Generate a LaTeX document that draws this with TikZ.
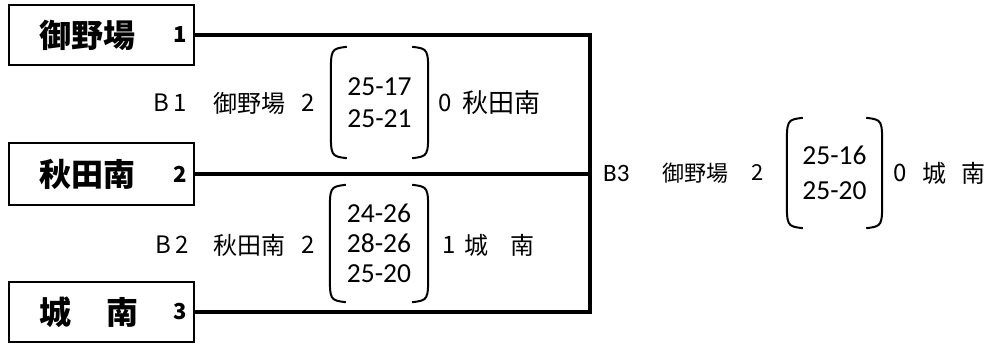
\documentclass[tikz,border=0pt]{standalone}
\usepackage{fontspec}
\setmainfont{Noto Sans CJK JP}
\newfontfamily\scfont{Carlito}
\begin{document}
\begin{tikzpicture}[x=1pt,y=-1pt,
  team/.style={draw, line width=2pt, minimum width=185pt, minimum height=60pt, inner sep=0pt},
  tname/.style={font=\fontsize{32}{32}\selectfont\bfseries, inner sep=0pt, anchor=west},
  tnum/.style={font=\fontsize{22}{22}\selectfont\bfseries, inner sep=0pt, anchor=east},
  wire/.style={line width=3.5pt},
  lbl/.style={font=\fontsize{24}{24}\selectfont, inner sep=0pt, anchor=west},
  score/.style={font=\scfont\fontsize{27.5}{#1}\selectfont, align=center, inner sep=0pt},
  paren/.style={line width=2pt}]
\useasboundingbox (0,0) rectangle (1008,345);

% team boxes
\node[team] (t1) at (101,35) {};
\node[team, minimum height=62pt] (t2) at (101,174) {};
\node[team] (t3) at (101,312) {};
\node[tname] (n1) at (39,35) {御野場};
\node[tname] (n2) at (39,174) {秋田南};
\node[tname] (n3) at (39,312) {城\hspace{35pt}南};
\node[tnum] (k1) at (187,35) {1};
\node[tnum] (k2) at (187,174) {2};
\node[tnum] (k3) at (187,312) {3};

% bracket lines
\coordinate (jn) at (590,0);
\draw[wire] (t1.east) -| (t3.east -| jn) -- (t3.east);
\draw[wire] (t2.east) -- (t2.east -| jn);

% score blocks
\node[score=32pt, minimum width=97pt, minimum height=111pt] (s1) at (379.5,102.5) {25-17\\25-21};
\node[score=30pt, minimum width=98pt, minimum height=117pt] (s2) at (379,243.5) {24-26\\28-26\\25-20};
\node[score=35pt, minimum width=95pt, minimum height=110pt] (s3) at (834.5,173) {25-16\\25-20};
\foreach \s in {s1,s2,s3}{
  \draw[paren] ([xshift=16pt]\s.north west) .. controls ([yshift=-2pt]\s.north west) .. ([yshift=-30pt]\s.north west)
     -- ([yshift=30pt]\s.south west) .. controls ([yshift=2pt]\s.south west) .. ([xshift=16pt]\s.south west);
  \draw[paren] ([xshift=-16pt]\s.north east) .. controls ([yshift=-2pt]\s.north east) .. ([yshift=-30pt]\s.north east)
     -- ([yshift=30pt]\s.south east) .. controls ([yshift=2pt]\s.south east) .. ([xshift=-16pt]\s.south east);
}

% match B1
\node[lbl] (b1) at (153,103) {B\hspace{5pt}1};
\node[lbl] (w1) at (213,103) {御野場};
\node[lbl] (ws1) at (301,103) {2};
\node[lbl] (ls1) at (438,103) {0};
\node[lbl, font=\fontsize{26}{26}\selectfont] (l1) at (462,103) {秋田南};

% match B2
\node[lbl] (b2) at (155,245) {B\hspace{5pt}2};
\node[lbl] (w2) at (213,245) {秋田南};
\node[lbl] (ws2) at (301,245) {2};
\node[lbl] (ls2) at (442,245) {1};
\node[lbl] (l2) at (464,245) {城\hspace{22pt}南};

% match B3
\node[lbl, font=\scfont\fontsize{25}{25}\selectfont] (b3) at (603,173) {B3};
\node[lbl, font=\fontsize{22}{22}\selectfont] (w3) at (662,173) {御野場};
\node[lbl, font=\fontsize{22}{22}\selectfont] (ws3) at (751,173) {2};
\node[lbl, font=\fontsize{24}{24}\selectfont] (ls3) at (893,173) {0};
\node[lbl] (l3) at (922,173) {城\hspace{15pt}南};
\end{tikzpicture}
\end{document}
